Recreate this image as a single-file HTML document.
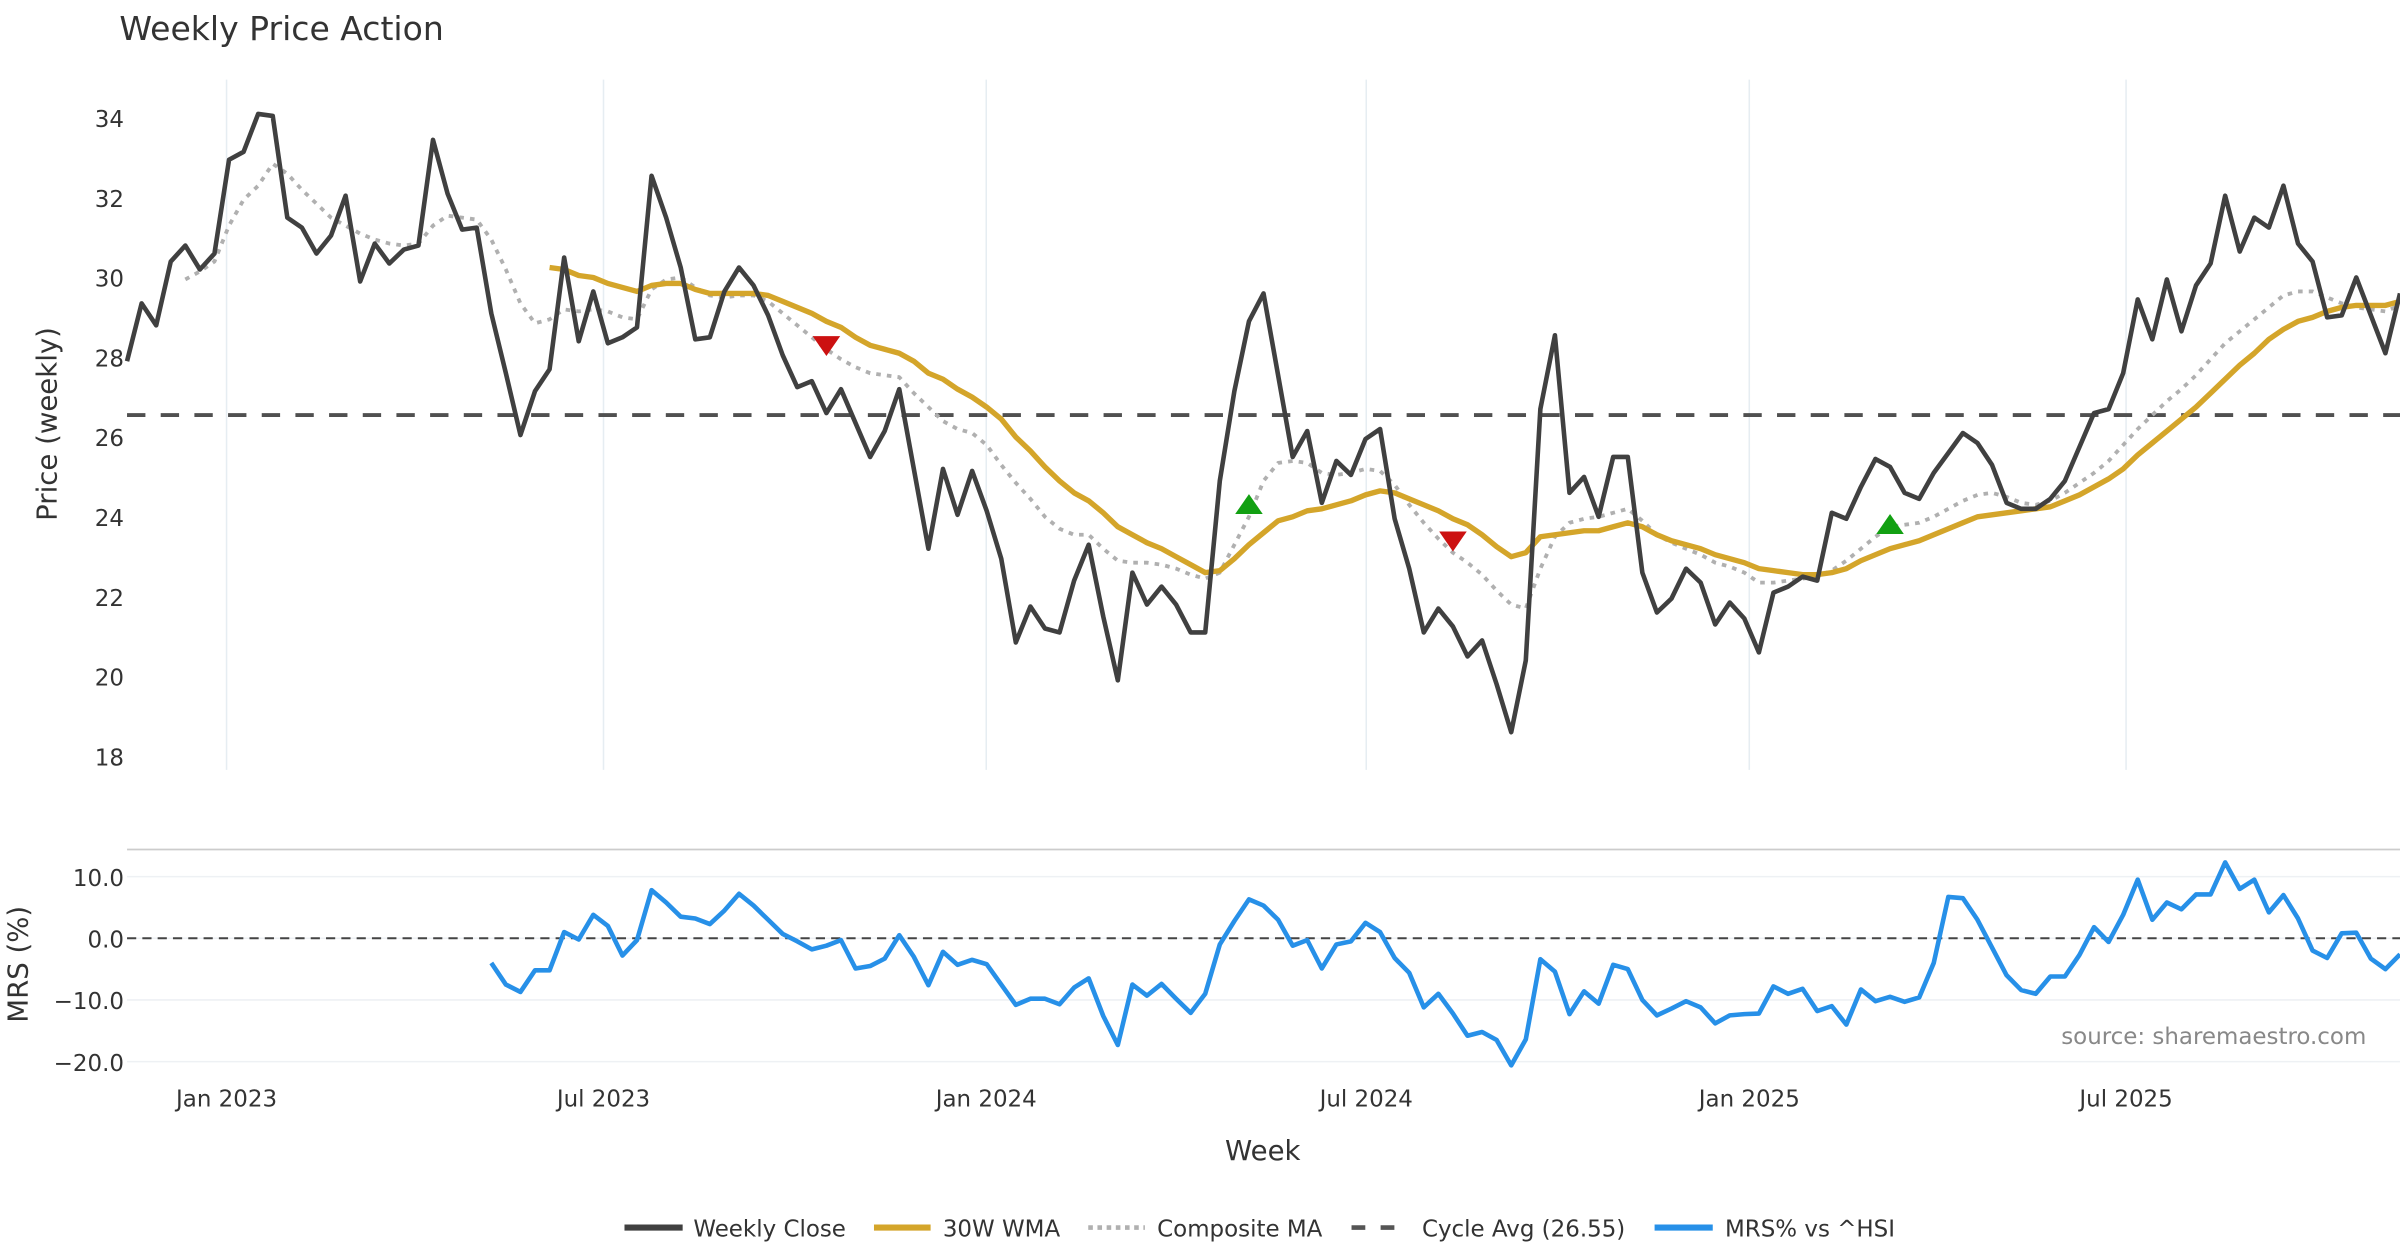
<!DOCTYPE html>
<html><head><meta charset="utf-8"><style>
html,body{margin:0;padding:0;background:#fff;}
svg{display:block;font-family:"DejaVu Sans","Liberation Sans",sans-serif;}
</style></head><body>
<svg id="chart" width="2400" height="1260" viewBox="0 0 1568 823.2" xmlns="http://www.w3.org/2000/svg">
<text x="78" y="26" font-size="21.6" fill="#333">Weekly Price Action</text>
<g id="grid"></g><g id="series"></g><g id="axes"></g>
<text transform="translate(37,277) rotate(-90)" text-anchor="middle" font-size="18" fill="#333">Price (weekly)</text>
<text transform="translate(18,630) rotate(-90)" text-anchor="middle" font-size="18" fill="#333">MRS (%)</text>
<text x="825" y="758" text-anchor="middle" font-size="18" fill="#333">Week</text>
<text x="1546" y="682" text-anchor="end" font-size="15" fill="#888">source: sharemaestro.com</text>
<g font-size="15" fill="#333">
<line x1="408" y1="802" x2="446" y2="802" stroke="#404040" stroke-width="4"/><text x="453" y="808">Weekly Close</text>
<line x1="571" y1="802" x2="608" y2="802" stroke="#D4A52A" stroke-width="4"/><text x="616" y="808">30W WMA</text>
<line x1="711" y1="802" x2="748" y2="802" stroke="#b0b0b0" stroke-width="3" stroke-dasharray="3,3"/><text x="756" y="808">Composite MA</text>
<line x1="883" y1="802" x2="920" y2="802" stroke="#555" stroke-width="3" stroke-dasharray="9,10"/><text x="929" y="808">Cycle Avg (26.55)</text>
<line x1="1081" y1="802" x2="1119" y2="802" stroke="#2790E8" stroke-width="4"/><text x="1127" y="808">MRS% vs ^HSI</text>
</g>
</svg>
<script>
const closeVals=[27.9,29.35,28.8,30.4,30.8,30.2,30.6,32.95,33.15,34.1,34.05,31.5,31.25,30.6,31.05,32.05,29.9,30.85,30.35,30.7,30.8,33.45,32.1,31.2,31.25,29.1,27.6,26.05,27.15,27.7,30.5,28.4,29.65,28.35,28.5,28.75,32.55,31.5,30.25,28.45,28.5,29.65,30.25,29.8,29.05,28.05,27.25,27.4,26.6,27.2,26.35,25.5,26.15,27.2,25.2,23.2,25.2,24.05,25.15,24.15,22.95,20.85,21.75,21.2,21.1,22.4,23.3,21.5,19.9,22.6,21.8,22.25,21.8,21.1,21.1,24.9,27.15,28.9,29.6,27.55,25.5,26.15,24.35,25.4,25.05,25.95,26.2,23.95,22.7,21.1,21.7,21.25,20.5,20.9,19.8,18.6,20.4,26.7,28.55,24.6,25.0,24.0,25.5,25.5,22.6,21.6,21.95,22.7,22.35,21.3,21.85,21.45,20.6,22.1,22.25,22.5,22.4,24.1,23.95,24.75,25.45,25.25,24.6,24.45,25.1,25.6,26.1,25.85,25.3,24.35,24.2,24.2,24.45,24.9,25.75,26.6,26.7,27.6,29.45,28.45,29.95,28.65,29.8,30.35,32.05,30.65,31.5,31.25,32.3,30.85,30.4,29.0,29.05,30.0,29.05,28.1,29.6];
const wmaStart=29;
const wmaVals=[30.25,30.2,30.05,30.0,29.85,29.75,29.65,29.8,29.85,29.85,29.7,29.6,29.6,29.6,29.6,29.55,29.4,29.25,29.1,28.9,28.75,28.5,28.3,28.2,28.1,27.9,27.6,27.45,27.2,27.0,26.75,26.45,26.0,25.65,25.25,24.9,24.6,24.4,24.1,23.75,23.55,23.35,23.2,23.0,22.8,22.6,22.65,22.95,23.3,23.6,23.9,24.0,24.15,24.2,24.3,24.4,24.55,24.65,24.6,24.45,24.3,24.15,23.95,23.8,23.55,23.25,23.0,23.1,23.5,23.55,23.6,23.65,23.65,23.75,23.85,23.75,23.55,23.4,23.3,23.2,23.05,22.95,22.85,22.7,22.65,22.6,22.55,22.55,22.6,22.7,22.9,23.05,23.2,23.3,23.4,23.55,23.7,23.85,24.0,24.05,24.1,24.15,24.2,24.25,24.4,24.55,24.75,24.95,25.2,25.55,25.85,26.15,26.45,26.75,27.1,27.45,27.8,28.1,28.45,28.7,28.9,29.0,29.15,29.25,29.3,29.3,29.3,29.4];
const compStart=4;
const compVals=[29.95,30.15,30.4,31.3,31.95,32.3,32.85,32.6,32.2,31.85,31.5,31.3,31.1,30.95,30.85,30.8,30.85,31.3,31.55,31.5,31.45,30.95,30.2,29.35,28.85,28.95,29.2,29.15,29.2,29.15,29.0,28.95,29.7,29.95,30.0,29.75,29.55,29.5,29.55,29.55,29.4,29.1,28.8,28.5,28.2,27.95,27.75,27.6,27.55,27.5,27.1,26.75,26.4,26.2,26.1,25.8,25.3,24.85,24.45,24.0,23.7,23.55,23.55,23.2,22.9,22.85,22.85,22.8,22.7,22.55,22.45,22.6,23.3,24.0,24.9,25.35,25.4,25.35,25.1,25.05,25.1,25.2,25.15,24.8,24.3,23.85,23.45,23.1,22.85,22.55,22.15,21.8,21.7,22.7,23.5,23.85,23.95,24.0,24.1,24.2,23.9,23.55,23.35,23.2,23.05,22.85,22.75,22.6,22.35,22.35,22.4,22.45,22.5,22.65,22.9,23.2,23.5,23.75,23.8,23.85,24.0,24.2,24.4,24.55,24.6,24.5,24.35,24.3,24.4,24.6,24.85,25.1,25.4,25.8,26.2,26.55,26.9,27.2,27.55,27.95,28.35,28.65,28.95,29.25,29.55,29.65,29.65,29.5,29.35,29.25,29.2,29.15,29.3];
const mrsStart=25;
const mrsVals=[-4,-7.5,-8.7,-5.2,-5.2,1,-0.2,3.8,2,-2.8,-0.3,7.8,5.8,3.5,3.2,2.3,4.5,7.2,5.3,3,0.7,-0.5,-1.8,-1.2,-0.3,-4.9,-4.5,-3.3,0.5,-3,-7.6,-2.2,-4.3,-3.5,-4.2,-7.5,-10.8,-9.8,-9.8,-10.7,-8,-6.5,-12.6,-17.3,-7.5,-9.3,-7.4,-9.8,-12.1,-9,-1,2.8,6.3,5.3,3,-1.2,-0.3,-4.9,-1,-0.5,2.5,1,-3.2,-5.6,-11.2,-9,-12.2,-15.8,-15.2,-16.5,-20.6,-16.4,-3.4,-5.4,-12.3,-8.6,-10.6,-4.3,-5,-10,-12.5,-11.4,-10.2,-11.2,-13.8,-12.5,-12.3,-12.2,-7.8,-9,-8.2,-11.8,-11,-14,-8.3,-10.2,-9.5,-10.3,-9.6,-4,6.7,6.5,3,-1.5,-6,-8.4,-9,-6.2,-6.2,-2.7,1.8,-0.6,3.8,9.5,3,5.8,4.7,7.1,7.1,12.3,8,9.5,4.2,7,3.2,-2,-3.2,0.8,0.9,-3.3,-5,-2.6];
const cycleAvg=26.55;
const markerIdx=[48,77,91,121];
const markerVals=[28.3,24.3,23.4,23.8];
const markerDir=['down','up','down','up'];
const priceTicks=[18,20,22,24,26,28,30,32,34];
const mrsTicks=[10,0,-10,-20];
const dateLabels=['Jan 2023','Jul 2023','Jan 2024','Jul 2024','Jan 2025','Jul 2025'];
const dateIdx=[6.83,32.7,58.97,85.05,111.34,137.2];

const NS='http://www.w3.org/2000/svg';
const X0=83,X1=1568,N=closeVals.length;
const step=(X1-X0)/(N-1);
const xs=i=>X0+i*step;
const yp=v=>494-(v-18)*26.06;
const ym=v=>613-v*4.03;
function mk(tag,attrs,parent){const e=document.createElementNS(NS,tag);for(const k in attrs)e.setAttribute(k,attrs[k]);parent.appendChild(e);return e;}
const gridG=document.getElementById('grid'),ser=document.getElementById('series'),ax=document.getElementById('axes');
dateIdx.forEach((d,k)=>{
  const l=mk('line',{x1:xs(d),x2:xs(d),y1:52,y2:503,stroke:'#e6edf2','stroke-width':1},gridG);
  
  
  const t=mk('text',{x:xs(d),y:723,'text-anchor':'middle','font-size':15,fill:'#333'},ax);
  t.textContent=dateLabels[k];
  
  
});
priceTicks.forEach(v=>{
  const t=mk('text',{x:81,y:yp(v)+6,'text-anchor':'end','font-size':15,fill:'#333'},ax);
  t.textContent=v;
  
  
});
const topBorder=mk('line',{x1:83,x2:1568,y1:555,y2:555,stroke:'#ccc','stroke-width':1.2},gridG);


mrsTicks.forEach(v=>{
  const g=mk('line',{x1:83,x2:1568,y1:ym(v),y2:ym(v),stroke:'#eef1f4','stroke-width':1},gridG);
  
  
  const t=mk('text',{x:81,y:ym(v)+6,'text-anchor':'end','font-size':15,fill:'#333'},ax);
  t.textContent=(v<0?'\u2212'+Math.abs(v).toFixed(1):v.toFixed(1));
  
  
});
const zl=mk('line',{x1:83,x2:1568,y1:ym(0),y2:ym(0),stroke:'#444','stroke-width':1.3,'stroke-dasharray':'6,4'},ser);


const cl=mk('line',{x1:83,x2:1568,y1:yp(cycleAvg),y2:yp(cycleAvg),stroke:'#505050','stroke-width':2.5,'stroke-dasharray':'12,10'},ser);


function poly(vals,start,yf,attrs,name){
  const pts=vals.map((v,i)=>xs(start+i).toFixed(2)+','+yf(v).toFixed(2)).join(' ');
  const p=mk('polyline',Object.assign({points:pts,fill:'none','stroke-linejoin':'round'},attrs),ser);
  
  
}
poly(compVals,compStart,yp,{stroke:'#b0b0b0','stroke-width':2.5,'stroke-dasharray':'3,4'},'composite-ma-line');
poly(wmaVals,wmaStart,yp,{stroke:'#D4A52A','stroke-width':3.5},'wma-30w-line');
poly(closeVals,0,yp,{stroke:'#404040','stroke-width':3},'weekly-close-line');
poly(mrsVals,mrsStart,ym,{stroke:'#2790E8','stroke-width':3},'mrs-line');
markerIdx.forEach((d,k)=>{
  const x=xs(d),y=yp(markerVals[k]);
  const pts=markerDir[k]==='up'?`${x-9},${y+6} ${x+9},${y+6} ${x},${y-7}`:`${x-9},${y-6} ${x+9},${y-6} ${x},${y+7}`;
  const m=mk('polygon',{points:pts,fill:markerDir[k]==='up'?'#12a012':'#cc1111'},ser);
  
  
});
</script>
</body></html>
